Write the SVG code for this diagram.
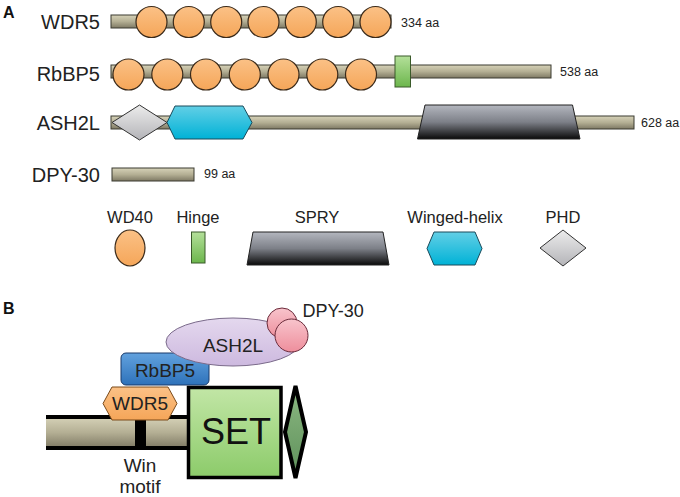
<svg xmlns="http://www.w3.org/2000/svg" width="680" height="497" viewBox="0 0 680 497">
<defs>
<linearGradient id="gBar" x1="0" y1="0" x2="0" y2="1"><stop offset="0" stop-color="#d6d2b8"/><stop offset="0.5" stop-color="#b4af94"/><stop offset="1" stop-color="#7e7964"/></linearGradient>
<linearGradient id="gOr" x1="0" y1="0" x2="0" y2="1"><stop offset="0" stop-color="#fbc186"/><stop offset="1" stop-color="#f5a659"/></linearGradient>
<linearGradient id="gGr" x1="0" y1="0" x2="0" y2="1"><stop offset="0" stop-color="#b4e09a"/><stop offset="1" stop-color="#6cb64c"/></linearGradient>
<linearGradient id="gSp" x1="0" y1="0" x2="0" y2="1"><stop offset="0" stop-color="#b4b7bf"/><stop offset="0.5" stop-color="#7d8088"/><stop offset="1" stop-color="#0a0a0a"/></linearGradient>
<linearGradient id="gCy" x1="0" y1="0" x2="0" y2="1"><stop offset="0" stop-color="#62cfe6"/><stop offset="1" stop-color="#00b2d6"/></linearGradient>
<linearGradient id="gDi" x1="0" y1="0" x2="0" y2="1"><stop offset="0" stop-color="#ececec"/><stop offset="1" stop-color="#b4b4b8"/></linearGradient>
<linearGradient id="gBl" x1="0" y1="0" x2="0" y2="1"><stop offset="0" stop-color="#62a2de"/><stop offset="1" stop-color="#2e72ba"/></linearGradient>
<linearGradient id="gSet" x1="0" y1="0" x2="0" y2="1"><stop offset="0" stop-color="#c2e6a6"/><stop offset="1" stop-color="#8ccb6a"/></linearGradient>
<linearGradient id="gPk" x1="0" y1="0" x2="0" y2="1"><stop offset="0" stop-color="#f8c4cc"/><stop offset="1" stop-color="#ee8e9c"/></linearGradient>
<linearGradient id="gDg" x1="0" y1="0" x2="0" y2="1"><stop offset="0" stop-color="#8cb882"/><stop offset="1" stop-color="#5e905a"/></linearGradient>
<linearGradient id="gLv" x1="0" y1="0" x2="0" y2="1"><stop offset="0" stop-color="#e4d8ee"/><stop offset="1" stop-color="#cdb9df"/></linearGradient>
</defs>
<style>
.lbl{font-family:"Liberation Sans",Arial,sans-serif;font-size:20px;fill:#222}
.aa{font-family:"Liberation Sans",Arial,sans-serif;font-size:12.5px;fill:#222}
.leg{font-family:"Liberation Sans",Arial,sans-serif;font-size:16.5px;fill:#222;text-anchor:middle}
.pl{font-family:"Liberation Sans",Arial,sans-serif;font-size:16px;font-weight:bold;fill:#111}
.bar{fill:url(#gBar);stroke:#3a3a30;stroke-width:1}
.wd{fill:url(#gOr);stroke:#3a2a1a;stroke-width:1.2}
.hg{fill:url(#gGr);stroke:#3a5a2a;stroke-width:1}
.sp{fill:url(#gSp);stroke:#222;stroke-width:1}
.wh{fill:url(#gCy);stroke:#1a4a5a;stroke-width:1}
.ph{fill:url(#gDi);stroke:#333;stroke-width:1}
.bl{font-family:"Liberation Sans",Arial,sans-serif;font-size:19px;fill:#222;text-anchor:middle}
.pk{fill:url(#gPk);stroke:#6a2a3a;stroke-width:1}
</style>
<text class="pl" x="3" y="18">A</text>
<g id="wdr5">
<text class="lbl" x="100" y="29" text-anchor="end">WDR5</text>
<rect class="bar" x="111" y="15" width="280" height="13"/>
<g class="wd"><circle cx="151.5" cy="22" r="15.5"/><circle cx="188.8" cy="22" r="15.5"/><circle cx="226.2" cy="22" r="15.5"/><circle cx="263.5" cy="22" r="15.5"/><circle cx="300.8" cy="22" r="15.5"/><circle cx="338.2" cy="22" r="15.5"/><circle cx="375.5" cy="22" r="15.5"/></g>
<text class="aa" x="401" y="27">334 aa</text>
</g>
<g id="rbbp5">
<text class="lbl" x="100" y="81" text-anchor="end">RbBP5</text>
<rect class="bar" x="111" y="65" width="440" height="13"/>
<g class="wd"><circle cx="128.5" cy="74.5" r="15.5"/><circle cx="167.3" cy="74.5" r="15.5"/><circle cx="206" cy="74.5" r="15.5"/><circle cx="244.8" cy="74.5" r="15.5"/><circle cx="283.5" cy="74.5" r="15.5"/><circle cx="322.3" cy="74.5" r="15.5"/><circle cx="361" cy="74.5" r="15.5"/></g>
<rect class="hg" x="395" y="56" width="15.5" height="31"/>
<text class="aa" x="560" y="76">538 aa</text>
</g>
<g id="ash2l">
<text class="lbl" x="100" y="130" text-anchor="end">ASH2L</text>
<rect class="bar" x="111" y="116" width="523" height="13"/>
<polygon class="ph" points="112,122.5 139.5,105 167,122.5 139.5,140"/>
<polygon class="wh" points="167,122.5 175,106 243,106 252,122.5 243,139 175,139"/>
<polygon class="sp" points="425,105 572.5,105 580,139 417.5,139"/>
<text class="aa" x="641" y="127">628 aa</text>
</g>
<g id="dpy30">
<text class="lbl" x="100" y="182" text-anchor="end">DPY-30</text>
<rect class="bar" x="112" y="168" width="82" height="13"/>
<text class="aa" x="204" y="178">99 aa</text>
</g>
<g id="legend">
<text class="leg" x="130" y="223">WD40</text>
<ellipse class="wd" cx="130" cy="248" rx="15" ry="18"/>
<text class="leg" x="198" y="223">Hinge</text>
<rect class="hg" x="191.5" y="232" width="13.5" height="31"/>
<text class="leg" x="317" y="223">SPRY</text>
<polygon class="sp" points="253,232 383,232 389,265 247,265"/>
<text class="leg" x="455" y="223">Winged-helix</text>
<polygon class="wh" points="427,248.5 434,232 475,232 482,248.5 475,265 434,265"/>
<text class="leg" x="563" y="223">PHD</text>
<polygon class="ph" points="540,248 563,230 586,248 563,266"/>
</g>
<text class="pl" x="3" y="314">B</text>
<g id="backbone">
<rect x="46" y="417" width="144" height="31" fill="url(#gBar)"/>
<line x1="46" y1="417" x2="190" y2="417" stroke="#000" stroke-width="4"/>
<line x1="46" y1="448" x2="190" y2="448" stroke="#000" stroke-width="4"/>
<rect x="135" y="417" width="11" height="31" fill="#000"/>
</g>
<g id="win">
<text class="bl" x="140" y="472">Win</text>
<text class="bl" x="140" y="493">motif</text>
</g>
<g id="wdr5b">
<polygon points="103,403.5 112,387 168,387 177,403.5 168,420 112,420" fill="url(#gOr)" stroke="#7a4a1a" stroke-width="1"/>
<text class="bl" x="140" y="410">WDR5</text>
</g>
<g id="rbbp5b">
<rect x="121" y="353" width="88" height="32" rx="5" fill="url(#gBl)" stroke="#1a3a6a" stroke-width="1"/>
<text class="bl" x="165" y="377">RbBP5</text>
</g>
<g id="ash2lb">
<ellipse cx="233" cy="342" rx="67" ry="24" fill="url(#gLv)" stroke="#7a6a8a" stroke-width="1"/>
<text class="bl" x="233" y="352">ASH2L</text>
</g>
<g id="dpy30b">
<circle class="pk" cx="282" cy="323" r="15"/>
<circle class="pk" cx="291.5" cy="335.5" r="16.5"/>
<text x="302.5" y="317" font-family="Liberation Sans, Arial, sans-serif" font-size="18" fill="#222">DPY-30</text>
</g>
<g id="set">
<rect x="188.5" y="387.5" width="92.5" height="90" fill="url(#gSet)" stroke="#000" stroke-width="3.5"/>
<text x="236" y="444" font-family="Liberation Sans, Arial, sans-serif" font-size="36" fill="#111" text-anchor="middle">SET</text>
</g>
<g id="post">
<polygon points="295.5,386 306,432 295.5,478 285,432" fill="url(#gDg)" stroke="#000" stroke-width="4" stroke-linejoin="miter"/>
</g>
</svg>
